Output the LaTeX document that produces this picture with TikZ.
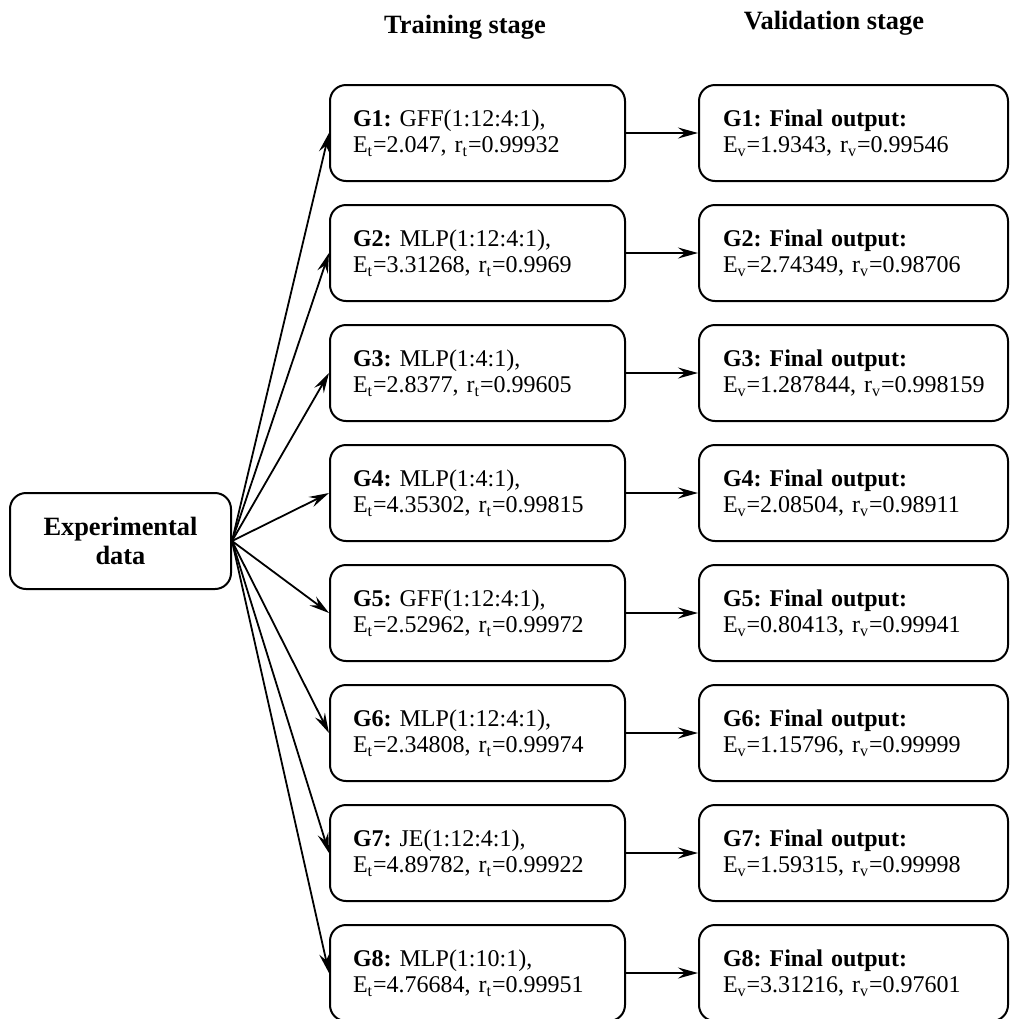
\documentclass[tikz,border=0pt]{standalone}
\usepackage{fontspec}
\setmainfont{Liberation Serif}
\usetikzlibrary{arrows.meta}
\frenchspacing

\tikzset{
  trainbox/.style={draw,line width=1pt,rounded corners=8pt,minimum width=147.5pt,minimum height=48pt,
    inner xsep=11.5pt,text width=124.5pt,align=left,font=\fontsize{12}{13}\selectfont},
  validbox/.style={draw,line width=1pt,rounded corners=8pt,minimum width=154.5pt,minimum height=48pt,
    inner xsep=12pt,text width=130.5pt,align=left,font=\fontsize{12}{13}\selectfont},
  databox/.style={draw,line width=1pt,rounded corners=8pt,minimum width=110.5pt,minimum height=48pt,
    align=center,font=\fontsize{13.2}{14.5}\selectfont\bfseries},
  stagetitle/.style={font=\fontsize{13.2}{14.5}\selectfont\bfseries,anchor=base},
  arr/.style={line width=0.9pt,-{Stealth[length=10pt,width=5.5pt,inset=3.5pt]}}
}

\begin{document}
\begin{tikzpicture}[x=0.5pt,y=-0.5pt]
    \useasboundingbox (0,0) rectangle (1009,1019);

    \node[stagetitle] (trainhead) at (465,33) {Training stage};
    \node[stagetitle] (validhead) at (834,29) {Validation stage};

    \node[databox] (data) at (120.5,541) {Experimental\\data};

    \node[trainbox] (t1) at (477.5,133) {\textbf{G1:} GFF(1:12:4:1),\\E\textsubscript{t}=2.047, r\textsubscript{t}=0.99932};
    \node[trainbox] (t2) at (477.5,253) {\textbf{G2:} MLP(1:12:4:1),\\E\textsubscript{t}=3.31268, r\textsubscript{t}=0.9969};
    \node[trainbox] (t3) at (477.5,373) {\textbf{G3:} MLP(1:4:1),\\E\textsubscript{t}=2.8377, r\textsubscript{t}=0.99605};
    \node[trainbox] (t4) at (477.5,493) {\textbf{G4:} MLP(1:4:1),\\E\textsubscript{t}=4.35302, r\textsubscript{t}=0.99815};
    \node[trainbox] (t5) at (477.5,613) {\textbf{G5:} GFF(1:12:4:1),\\E\textsubscript{t}=2.52962, r\textsubscript{t}=0.99972};
    \node[trainbox] (t6) at (477.5,733) {\textbf{G6:} MLP(1:12:4:1),\\E\textsubscript{t}=2.34808, r\textsubscript{t}=0.99974};
    \node[trainbox] (t7) at (477.5,853) {\textbf{G7:} JE(1:12:4:1),\\E\textsubscript{t}=4.89782, r\textsubscript{t}=0.99922};
    \node[trainbox] (t8) at (477.5,973) {\textbf{G8:} MLP(1:10:1),\\E\textsubscript{t}=4.76684, r\textsubscript{t}=0.99951};

    \node[validbox] (v1) at (853.5,133) {\textbf{G1: Final output:}\\E\textsubscript{v}=1.9343, r\textsubscript{v}=0.99546};
    \node[validbox] (v2) at (853.5,253) {\textbf{G2: Final output:}\\E\textsubscript{v}=2.74349, r\textsubscript{v}=0.98706};
    \node[validbox] (v3) at (853.5,373) {\textbf{G3: Final output:}\\\mbox{E\textsubscript{v}=1.287844, r\textsubscript{v}=0.998159}};
    \node[validbox] (v4) at (853.5,493) {\textbf{G4: Final output:}\\E\textsubscript{v}=2.08504, r\textsubscript{v}=0.98911};
    \node[validbox] (v5) at (853.5,613) {\textbf{G5: Final output:}\\E\textsubscript{v}=0.80413, r\textsubscript{v}=0.99941};
    \node[validbox] (v6) at (853.5,733) {\textbf{G6: Final output:}\\E\textsubscript{v}=1.15796, r\textsubscript{v}=0.99999};
    \node[validbox] (v7) at (853.5,853) {\textbf{G7: Final output:}\\E\textsubscript{v}=1.59315, r\textsubscript{v}=0.99998};
    \node[validbox] (v8) at (853.5,973) {\textbf{G8: Final output:}\\E\textsubscript{v}=3.31216, r\textsubscript{v}=0.97601};

    \draw[arr] (data.east) -- (t1.west);
    \draw[arr] (data.east) -- (t2.west);
    \draw[arr] (data.east) -- (t3.west);
    \draw[arr] (data.east) -- (t4.west);
    \draw[arr] (data.east) -- (t5.west);
    \draw[arr] (data.east) -- (t6.west);
    \draw[arr] (data.east) -- (t7.west);
    \draw[arr] (data.east) -- (t8.west);

    \draw[arr] (t1.east) -- (v1.west);
    \draw[arr] (t2.east) -- (v2.west);
    \draw[arr] (t3.east) -- (v3.west);
    \draw[arr] (t4.east) -- (v4.west);
    \draw[arr] (t5.east) -- (v5.west);
    \draw[arr] (t6.east) -- (v6.west);
    \draw[arr] (t7.east) -- (v7.west);
    \draw[arr] (t8.east) -- (v8.west);
  \end{tikzpicture}
\end{document}
